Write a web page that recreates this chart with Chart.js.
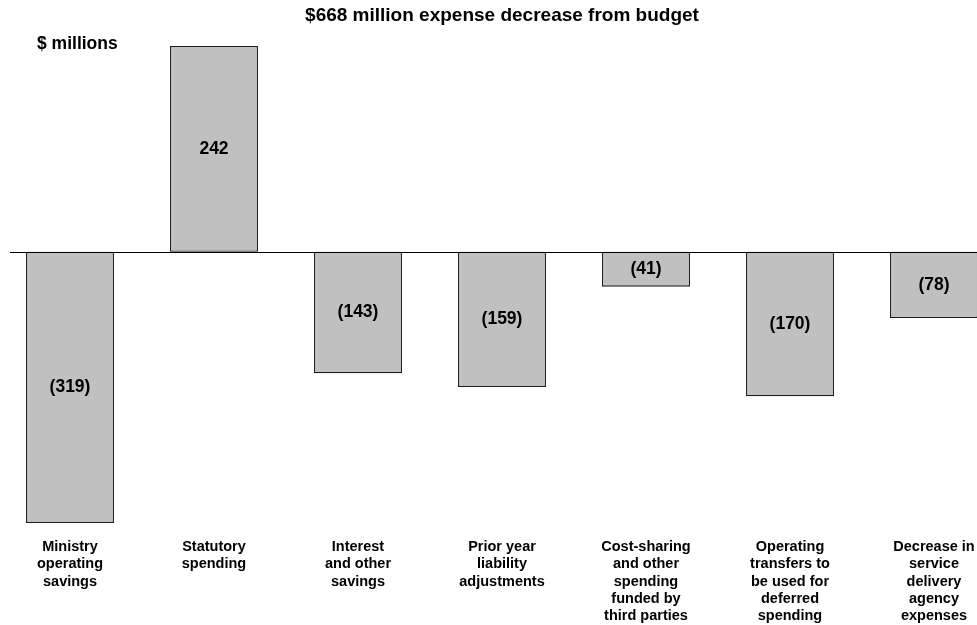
<!DOCTYPE html>
<html>
<head>
  <title>Expense decrease from budget</title>
  <style>
    body {
      margin: 0;
      padding: 0;
      background-color: #fff;
      overflow: hidden;
      width: 977px;
      height: 625px;
      position: relative;
    }

    /* plot is a bit wider than the page so the last bar runs off the edge */
    #wrap {
      position: absolute;
      left: -2px;
      top: 0;
      width: 1008px;
      height: 625px;
    }
  </style>
</head>
<body>

<div id="wrap">
  <canvas id="myChart"></canvas>
</div>

<script src="https://cdn.jsdelivr.net/npm/chart.js"></script>
<script>
  const FONT = "Arial, 'Liberation Sans', sans-serif";

  const categories = [
    ['Ministry', 'operating', 'savings'],
    ['Statutory', 'spending'],
    ['Interest', 'and other', 'savings'],
    ['Prior year', 'liability', 'adjustments'],
    ['Cost-sharing', 'and other', 'spending', 'funded by', 'third parties'],
    ['Operating', 'transfers to', 'be used for', 'deferred', 'spending'],
    ['Decrease in', 'service', 'delivery', 'agency', 'expenses']
  ];
  const changes = [-319, 242, -143, -159, -41, -170, -78];

  const titleText = '$668 million expense decrease from budget';
  const unitText = '$ millions';

  function fmt(v) {
    return v < 0 ? '(' + Math.abs(v) + ')' : String(v);
  }

  // zero line, unit caption and the numbers inside the bars
  const extras = {
    id: 'extras',
    afterDatasetsDraw(chart) {
      const ctx = chart.ctx;
      const area = chart.chartArea;
      const y0 = Math.round(chart.scales.y.getPixelForValue(0)) + 0.5;

      ctx.save();
      ctx.strokeStyle = '#000';
      ctx.lineWidth = 1;
      ctx.beginPath();
      ctx.moveTo(area.left + 12, y0);
      ctx.lineTo(area.right, y0);
      ctx.stroke();

      ctx.fillStyle = '#000';
      ctx.font = 'bold 17.5px ' + FONT;
      ctx.textAlign = 'left';
      ctx.textBaseline = 'alphabetic';
      ctx.fillText(unitText, 39, 48.5);

      ctx.textAlign = 'center';
      ctx.textBaseline = 'middle';
      chart.getDatasetMeta(0).data.forEach((bar, i) => {
        ctx.fillText(fmt(changes[i]), bar.x, (bar.y + bar.base) / 2);
      });
      ctx.restore();
    }
  };

  const ctx = document.getElementById('myChart').getContext('2d');
  const myChart = new Chart(ctx, {
    type: 'bar',
    data: {
      labels: categories,
      datasets: [{
        data: changes,
        backgroundColor: '#c0c0c0',
        borderColor: '#1e1e1e',
        borderWidth: 1.3,
        borderSkipped: false,
        categoryPercentage: 1,
        barPercentage: 0.611
      }]
    },
    options: {
      responsive: true,
      maintainAspectRatio: false,
      animation: false,
      layout: { padding: 0 },
      scales: {
        x: {
          grid: { display: false, drawTicks: false },
          border: { display: false },
          afterFit(scale) {
            scale.height = 102;
          },
          ticks: {
            color: '#000',
            autoSkip: false,
            maxRotation: 0,
            padding: 15,
            font: { family: FONT, size: 14.5, weight: 'bold', lineHeight: 1.2 }
          }
        },
        y: {
          display: false,
          min: -319,
          max: 242
        }
      },
      plugins: {
        legend: { display: false },
        tooltip: { enabled: false },
        title: {
          display: true,
          text: titleText,
          color: '#000',
          font: { family: FONT, size: 19, weight: 'bold', lineHeight: 1.2 },
          padding: { top: 4.6, bottom: 18.6 }
        }
      }
    },
    plugins: [extras]
  });
</script>
</body>
</html>
